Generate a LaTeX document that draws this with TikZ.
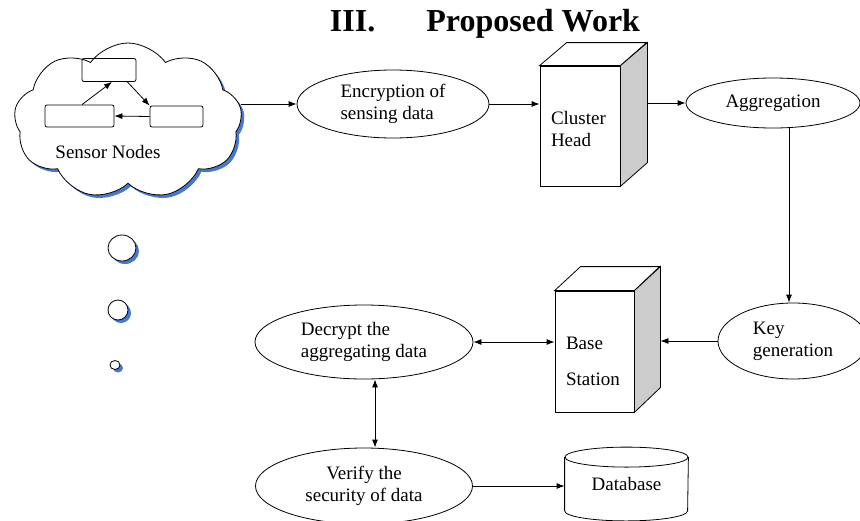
\documentclass[tikz,border=0pt]{standalone}
\usepackage{fontspec}
\setmainfont{Liberation Serif}
\usetikzlibrary{arrows,arrows.meta,shapes,shadows}
\definecolor{ombre}{RGB}{70,120,210}

\begin{document}
\begin{tikzpicture}[x=1pt,y=-1pt,line width=0.8pt,font=\fontsize{19}{22}\selectfont]
        \useasboundingbox (0,0) rectangle (860,520);
        \tikzset{fleche/.style={->,>={Latex[length=8pt,width=6pt]}},
                 dfleche/.style={<->,>={Latex[length=8pt,width=6pt]}},
                 ombree/.style={draw,fill=white,drop shadow={fill=ombre,opacity=1,shadow xshift=3pt,shadow yshift=-3pt}},
                 bulle/.style={draw,ellipse,inner sep=0pt},
                 boite/.style={draw,rounded corners=2pt,inner sep=0pt},
                 etape/.style={draw,ellipse,inner sep=0pt},
                 bloc/.style={draw,fill=white,inner sep=0pt}}
        \node[font=\fontsize{32}{36}\selectfont\bfseries] (T) at (485,24) {III.\hspace{51pt}Proposed Work};
        % nuage des capteurs
        \node[cloud,cloud puffs=9,cloud puff arc=110,aspect=1.5,minimum width=228,minimum height=156,ombree] (SN) at (128,121) {};
        \node (SNt) at (108,152) {Sensor Nodes};
        \node[boite,minimum width=54,minimum height=23] (N1) at (109,70) {};
        \node[boite,minimum width=69,minimum height=22] (N2) at (79.5,116) {};
        \node[boite,minimum width=53,minimum height=21] (N3) at (176.5,116.5) {};
        \draw[fleche] ([xshift=2.5pt]N2.north) -- ([xshift=3pt]N1.south);
        \draw[fleche] ([xshift=-9pt]N1.south east) -- (N3.north west);
        \draw[fleche] (N3.west) -- (N2.east);
        \node[bulle,ombree,minimum width=28,minimum height=26] (C1) at (122,248) {};
        \node[bulle,ombree,minimum size=20] (C2) at (118,310) {};
        \node[bulle,ombree,minimum width=10,minimum height=9] (C3) at (115,365) {};
        % etapes
        \node[etape,minimum width=192,minimum height=68,align=left] (EN) at (393,104) {Encryption of\\sensing data};
        \node[bloc,minimum width=80,minimum height=120] (CH) at (580,126) {};
        \node[align=left,anchor=west,inner sep=0pt] (CHt) at ([xshift=11pt,yshift=-3pt]CH.west) {Cluster\\Head};
        \draw[fill=white] (CH.north west) -- ++(27,-23) -- ++(80,0) -- (CH.north east) -- cycle;
        \draw[fill=black!20] (CH.north east) -- ++(27,-23) -- ++(0,120) -- (CH.south east) -- cycle;
        \coordinate (CHd) at ([shift={(27,-23)}]CH.east);
        \node[etape,minimum width=174,minimum height=50] (AG) at (773,103) {Aggregation};
        \node[etape,minimum width=150,minimum height=76,align=left] (KG) at (793,341) {Key\\generation};
        \node[bloc,minimum width=79,minimum height=121] (BS) at (594.5,351.5) {};
        \node[align=left,anchor=west,inner sep=0pt] (BSt) at ([xshift=11pt,yshift=-10pt]BS.west) {Base\\[14pt]Station};
        \draw[fill=white] (BS.north west) -- ++(26,-24) -- ++(79,0) -- (BS.north east) -- cycle;
        \draw[fill=black!20] (BS.north east) -- ++(26,-24) -- ++(0,121) -- (BS.south east) -- cycle;
        \coordinate (BSd) at ([shift={(26,-24)}]BS.east);
        \node[etape,minimum width=218,minimum height=74,align=left] (DA) at (364,342) {Decrypt the\\aggregating data};
        \node[etape,minimum width=217,minimum height=76,align=center] (VS) at (364,486) {Verify the\\security of data};
        \node[minimum width=123,minimum height=73] (DB) at (626.5,484) {Database};
        \draw ([yshift=-10pt]DB.north west) -- ([yshift=10pt]DB.south west) arc[start angle=180,end angle=360,x radius=61.5pt,y radius=10pt] -- ([yshift=-10pt]DB.north east);
        \draw ([yshift=-10pt]DB.north) ellipse[x radius=61.5pt,y radius=10pt];
        % liens
        \draw[fleche] (EN.west -| SN.east) -- (EN.west);
        \draw[fleche] (EN.east) -- (EN.east -| CH.west);
        \draw[fleche] (CHd) -- (AG.west);
        \draw[fleche] ([xshift=16pt]AG.south) -- ([xshift=16pt]AG.south |- KG.north);
        \draw[fleche] (KG.west) -- (KG.west -| BSd);
        \draw[dfleche] (DA.east) -- (DA.east -| BS.west);
        \draw[dfleche] ([xshift=11pt]DA.south) -- ([xshift=11pt]VS.north);
        \draw[fleche] (VS.east) -- (VS.east -| DB.west);
\end{tikzpicture}
\end{document}
